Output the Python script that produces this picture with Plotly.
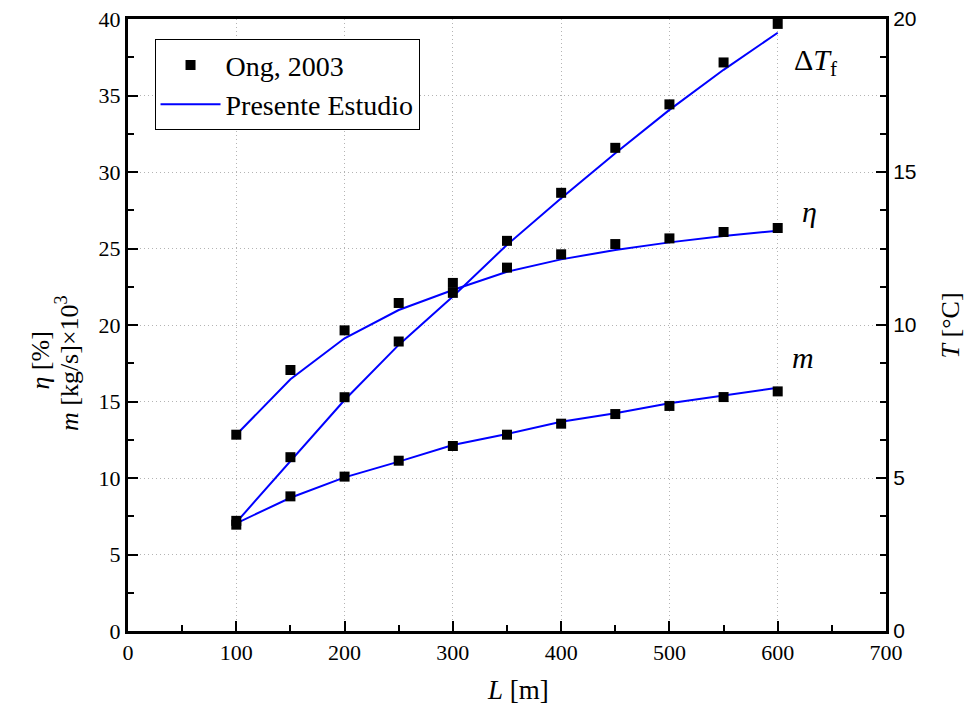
import plotly.graph_objects as go

L = [100, 150, 200, 250, 300, 350, 400, 450, 500, 550, 600]

# Ong, 2003 (experimental points)
eta_ong = [12.83, 17.06, 19.65, 21.44, 22.75, 23.75, 24.62, 25.29, 25.66, 26.08, 26.34]
m_ong = [6.95, 8.80, 10.09, 11.13, 12.09, 12.83, 13.55, 14.18, 14.71, 15.29, 15.66]
dT_ong = [3.60, 5.68, 7.64, 9.46, 11.05, 12.75, 14.32, 15.79, 17.21, 18.58, 19.84]  # °C

# Presente Estudio (model)
eta_model = [12.83, 16.45, 19.13, 20.98, 22.29, 23.48, 24.29, 24.90, 25.40, 25.82, 26.16]
m_model = [7.04, 8.71, 10.04, 11.07, 12.16, 12.88, 13.68, 14.23, 14.88, 15.38, 15.90]
dT_model = [3.55, 5.54, 7.55, 9.35, 10.93, 12.62, 14.14, 15.61, 17.03, 18.34, 19.55]  # °C

SERIF = "Liberation Serif, Times New Roman, serif"
SANS = "Liberation Sans, Arial, sans-serif"
BLUE = "#0000FF"

fig = go.Figure()

line_style = dict(color=BLUE, width=2)
marker_style = dict(symbol="square", size=10, color="black")

fig.add_trace(go.Scatter(x=L, y=eta_model, mode="lines", line=line_style, showlegend=False))
fig.add_trace(go.Scatter(x=L, y=m_model, mode="lines", line=line_style, showlegend=False))
fig.add_trace(go.Scatter(x=L, y=dT_model, mode="lines", line=line_style, yaxis="y2", showlegend=False))
fig.add_trace(go.Scatter(x=L, y=eta_ong, mode="markers", marker=marker_style, name="Ong, 2003", showlegend=True, legendrank=1))
fig.add_trace(go.Scatter(x=L, y=m_ong, mode="markers", marker=marker_style, showlegend=False))
fig.add_trace(go.Scatter(x=L, y=dT_ong, mode="markers", marker=marker_style, yaxis="y2", showlegend=False))
fig.add_trace(go.Scatter(x=[None], y=[None], mode="lines", line=line_style, name="Presente Estudio", showlegend=True, legendrank=2))

grid = dict(showgrid=True, gridcolor="#b4b4b4", griddash="1px,3px", gridwidth=1)
tickstyle = dict(ticks="inside", ticklen=10, tickwidth=2, tickcolor="black")

fig.update_layout(
    width=969, height=704,
    paper_bgcolor="white", plot_bgcolor="white",
    margin=dict(l=128, r=83, t=19, b=73, autoexpand=False),
    font=dict(family=SERIF, size=22, color="black"),
    showlegend=True,
    legend=dict(
        x=0.035, y=0.967, xanchor="left", yanchor="top",
        bgcolor="white", bordercolor="black", borderwidth=1,
        font=dict(family=SERIF, size=28, color="black"),
        tracegroupgap=0, itemwidth=60,
    ),
    xaxis=dict(
        range=[0, 700], dtick=100, tick0=0, **tickstyle,
        minor=dict(dtick=50, ticks="inside", ticklen=6, tickwidth=2, tickcolor="black", showgrid=False),
        showline=True, linecolor="black", linewidth=3, mirror=True,
        tickfont=dict(family=SERIF, size=22), zeroline=False, automargin=False,
        **grid,
    ),
    yaxis=dict(
        range=[0, 40], dtick=5, tick0=0, **tickstyle,
        minor=dict(dtick=2.5, ticks="inside", ticklen=6, tickwidth=2, tickcolor="black", showgrid=False),
        showline=True, linecolor="black", linewidth=3, mirror=False,
        tickfont=dict(family=SERIF, size=22), zeroline=False, automargin=False,
        **grid,
    ),
    yaxis2=dict(
        range=[0, 20], dtick=5, tick0=0, overlaying="y", side="right", **tickstyle,
        minor=dict(dtick=1.25, ticks="inside", ticklen=6, tickwidth=2, tickcolor="black", showgrid=False),
        showline=True, linecolor="black", linewidth=3,
        tickfont=dict(family=SANS, size=21), showgrid=False, zeroline=False, automargin=False,
    ),
)

ann = []
ann.append(dict(text="<i>L</i> [m]", x=0.515, y=-0.0964, xref="paper", yref="paper",
                showarrow=False, font=dict(family=SERIF, size=27), xanchor="center", yanchor="middle"))
ann.append(dict(text="<i>η</i> [%]", x=-0.116, y=0.442, xref="paper", yref="paper",
                textangle=-90, showarrow=False, font=dict(family=SERIF, size=26),
                xanchor="center", yanchor="middle"))
ann.append(dict(text="<i>m</i> [kg/s]×10<sup>3</sup>", x=-0.079, y=0.438, xref="paper", yref="paper",
                textangle=-90, showarrow=False, font=dict(family=SERIF, size=26),
                xanchor="center", yanchor="middle"))
ann.append(dict(text="<i>T</i> [°C]", x=1.085, y=0.5, xref="paper", yref="paper", textangle=-90,
                showarrow=False, font=dict(family=SERIF, size=26), xanchor="center", yanchor="middle"))
ann.append(dict(text="Δ<i>T</i><sub>f</sub>", x=634.6, y=37.2, xref="x", yref="y",
                showarrow=False, font=dict(family=SERIF, size=30), xanchor="center", yanchor="middle"))
ann.append(dict(text="<i>η</i>", x=629, y=27.4, xref="x", yref="y",
                showarrow=False, font=dict(family=SERIF, size=30), xanchor="center", yanchor="middle"))
ann.append(dict(text="<i>m</i>", x=623.5, y=17.9, xref="x", yref="y",
                showarrow=False, font=dict(family=SERIF, size=30), xanchor="center", yanchor="middle"))
fig.update_layout(annotations=ann)

fig.write_html("out.html", config={"displayModeBar": False},
               post_script="document.body.style.margin='0px';")
